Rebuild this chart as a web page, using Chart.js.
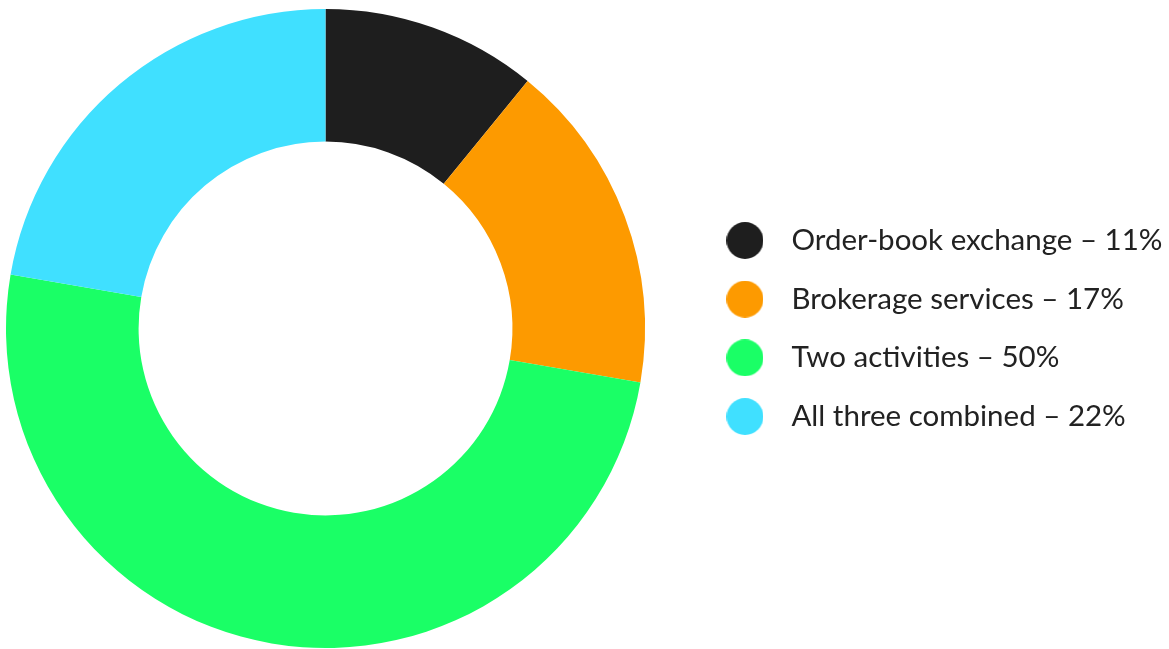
<!DOCTYPE html>
<html>
<head>
<meta charset="utf-8">
<script src="https://cdn.jsdelivr.net/npm/chart.js@4/dist/chart.umd.min.js"></script>
<style>
  html, body { margin: 0; padding: 0; background: #fff; overflow: hidden; }
  #wrap { width: 1169px; height: 649px; overflow: hidden; }
  #chart { display: block; margin-left: -33px; }
</style>
</head>
<body>
<div id="wrap"><canvas id="chart" width="1202" height="649"></canvas></div>
<script>
const categories = ["Order-book exchange", "Brokerage services", "Two activities", "All three combined"];
const shares = [10.9, 16.8, 50.0, 22.3];
const sliceColors = ["#1e1e1e", "#fd9a00", "#1aff66", "#40e0ff"];

// legend dots: drawn once on small canvases so the gap to the text can be set freely
function makeDot(color) {
    const c = document.createElement("canvas");
    c.width = 37; c.height = 37;
    const g = c.getContext("2d");
    g.fillStyle = color;
    g.beginPath();
    g.arc(18.5, 18.5, 18.5, 0, Math.PI * 2);
    g.fill();
    return c;
}
const dots = sliceColors.map(makeDot);

new Chart(document.getElementById("chart"), {
    type: "doughnut",
    data: {
        labels: categories,
        datasets: [{
            data: shares,
            backgroundColor: sliceColors,
            borderWidth: 0,
            hoverOffset: 0
        }]
    },
    options: {
        responsive: false,
        animation: false,
        devicePixelRatio: 1,
        cutout: "58.5%",
        layout: { padding: { left: 0, right: 0, top: 9, bottom: 1 } },
        plugins: {
            tooltip: { enabled: false },
            legend: {
                position: "right",
                align: "center",
                maxWidth: 485,
                labels: {
                    usePointStyle: true,
                    pointStyleWidth: 63.5,
                    padding: 29.2,
                    color: "#222",
                    font: { family: "Lato", size: 29.5 },
                    generateLabels: (chart) => categories.map((name, i) => ({
                        text: name + " \u2013 " + Math.round(shares[i]) + "%",
                        fillStyle: sliceColors[i],
                        strokeStyle: sliceColors[i],
                        lineWidth: 0,
                        pointStyle: dots[i],
                        fontColor: "#222",
                        hidden: false,
                        index: i
                    }))
                }
            }
        }
    }
});
</script>
</body>
</html>
